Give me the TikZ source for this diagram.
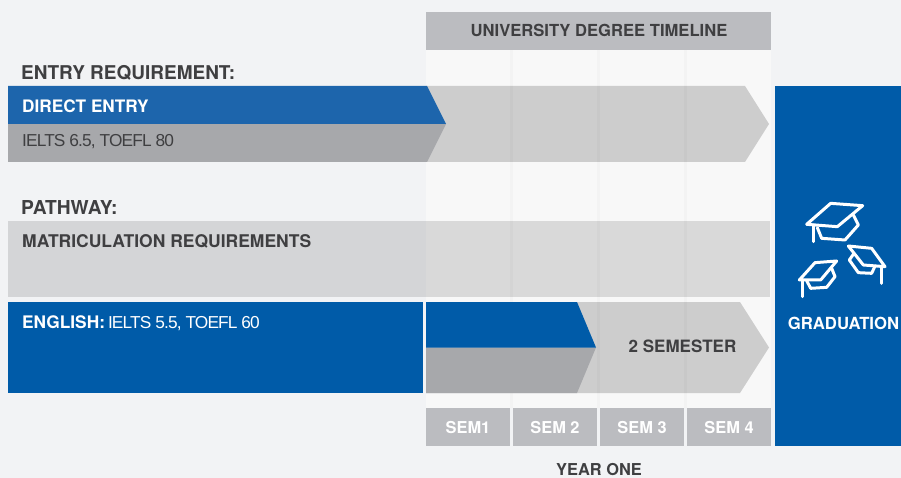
\documentclass[tikz,border=0pt]{standalone}
\usepackage{fontspec}
\setmainfont{TeX Gyre Heros}
\newfontfamily\lightf[LetterSpace=-5]{Liberation Sans}
\definecolor{pagebg}{HTML}{F2F3F5}
\definecolor{colbg}{HTML}{F8F8F8}
\definecolor{headgrey}{HTML}{BBBCC0}
\definecolor{arrowgrey}{HTML}{CDCDCD}
\definecolor{midgrey}{HTML}{A7A8AB}
\definecolor{blueA}{HTML}{1D65AC}
\definecolor{blueB}{HTML}{005BA8}
\definecolor{ink}{HTML}{3F3F41}
\newcommand{\sz}[1]{\fontsize{#1}{20}\selectfont\bfseries}
\tikzset{
  x=1pt,y=-1pt,
  lab/.style={text=ink,inner sep=0pt,anchor=base west},
  wlab/.style={lab,text=white},
  thin lab/.style={font=\lightf\fontsize{17.3}{20}\selectfont,inner sep=0pt,anchor=base west},
  clab/.style={inner sep=0pt,anchor=base},
  hat/.style={draw=white,line width=3pt,line join=round,line cap=round},
  gridl/.style={fill=black,fill opacity=0.018}
}
\begin{document}
\begin{tikzpicture}
\useasboundingbox (0,0) rectangle (901,478);
\fill[pagebg] (0,0) rectangle (901,478);
\fill[colbg] (426,50) rectangle (771,408);
\fill[headgrey] (426,12) rectangle (771,50);
% grey long arrows
\fill[arrowgrey] (426,86) -- (745,86) -- (769,124) -- (745,162) -- (426,162) -- cycle;
\fill[arrowgrey] (426,302) -- (740,302) -- (769,347.5) -- (740,393) -- (426,393) -- cycle;
% matriculation band
\fill[black,fill opacity=0.12] (8,221) rectangle (770,297);
% column separators
\foreach \gx in {510,597,684} \fill[gridl] (\gx,50) rectangle (\gx+3,408);
% direct entry
\fill[midgrey] (8,124) -- (446,124) -- (427,162) -- (8,162) -- cycle;
\fill[blueA] (8,86) -- (427,86) -- (446,124) -- (8,124) -- cycle;
% english
\fill[blueB] (8,302) rectangle (423,393);
\fill[midgrey] (426,347.5) -- (596,347.5) -- (577,393) -- (426,393) -- cycle;
\fill[blueB] (426,302) -- (577,302) -- (596,347.5) -- (426,347.5) -- cycle;
% semesters
\foreach \sx/\sn/\st in {426/s1/SEM1,513/s2/SEM 2,600/s3/SEM 3,687/s4/SEM 4}{
  \fill[headgrey] (\sx,408) rectangle (\sx+84,446);
  \node[clab,text=white,font=\sz{16.4}] (\sn) at (\sx+42,433.5) {\st};
}
% graduation
\fill[blueB] (775,86) rectangle (901,446);
% hats
\begin{scope}[shift={(780,190)},x=0.3333pt,y=-0.3333pt]
\draw[hat] (152,40) -- (248,47) -- (172,110) -- (80,103) -- cycle;
\draw[hat] (100,105) -- (100,155);
\draw[hat] (112,113) -- (125,145) -- (195,150) -- (235,105) -- (220,75);
\draw[hat] (105,218) -- (170,213) -- (122,270) -- (58,270) -- cycle;
\draw[hat] (67,272) -- (67,320);
\draw[hat] (80,272) -- (92,295) -- (140,292) -- (165,260) -- (155,235);
\draw[hat] (205,168) -- (275,175) -- (315,230) -- (250,225) -- cycle;
\draw[hat] (305,232) -- (305,280);
\draw[hat] (222,190) -- (208,210) -- (235,248) -- (275,250) -- (285,228);
\end{scope}
% text
\node[clab,text=ink,font=\sz{16.6}] (title) at (599,36.5) {UNIVERSITY DEGREE TIMELINE};
\node[lab,font=\sz{19}] (entry) at (21,79.2) {ENTRY REQUIREMENT:};
\node[wlab,font=\sz{17.2}] (direct) at (22,112.7) {DIRECT ENTRY};
\node[thin lab,text=ink] (ielts) at (22,146.8) {IELTS 6.5, TOEFL 80};
\node[lab,font=\sz{19.2}] (path) at (21,214.8) {PATHWAY:};
\node[lab,font=\sz{17.5}] (matric) at (22,247.7) {MATRICULATION REQUIREMENTS};
\node[wlab,font=\sz{17.3}] (eng) at (22,328.2) {ENGLISH:\hspace{3pt}\lightf\mdseries\fontsize{17.3}{20}\selectfont IELTS 5.5, TOEFL 60};
\node[clab,text=ink,font=\sz{17}] (two) at (682.5,352.3) {2 SEMESTER};
\node[clab,text=white,font=\sz{16.7}] (grad) at (843.5,329.3) {GRADUATION};
\node[clab,text=ink,font=\sz{16.4}] (year) at (599,475.5) {YEAR ONE};
\end{tikzpicture}
\end{document}
